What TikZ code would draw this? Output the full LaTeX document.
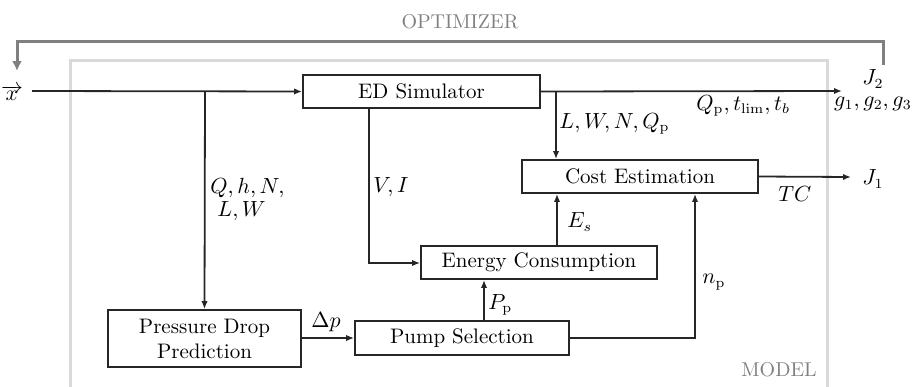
\documentclass[tikz,border=0pt]{standalone}
\usetikzlibrary{arrows.meta}
\begin{document}
\begin{tikzpicture}[x=0.5pt,y=-0.5pt,
  blk/.style={draw=black!85,line width=0.9pt,rectangle,inner sep=0pt,font=\fontsize{10.5}{12.5}\selectfont,align=center},
  con/.style={draw=black!85,line width=0.9pt,-{Latex[length=4pt,width=3.2pt]}},
  lnk/.style={draw=black!85,line width=0.9pt},
  lab/.style={inner sep=1pt,font=\fontsize{10.5}{12}\selectfont},
  opt/.style={draw=black!50,line width=1.5pt},
  gtext/.style={text=black!50,font=\fontsize{10}{12}\selectfont}]
\useasboundingbox (0,0) rectangle (919,386);
% model frame
\draw[draw=black!15,line width=1.5pt] (70,390) -- (70,60) -- (827,60) -- (827,390);
\node[gtext] (modellab) at (779,370) {MODEL};
\node[gtext] (optlab) at (460,22) {OPTIMIZER};
% blocks
\node[blk,minimum width=118.5pt,minimum height=16.5pt] (ed) at (421.5,91.5) {ED Simulator};
\node[blk,minimum width=118pt,minimum height=16.5pt] (cost) at (640,176.5) {Cost Estimation};
\node[blk,minimum width=118pt,minimum height=16.5pt] (energy) at (539,262.5) {Energy Consumption};
\node[blk,minimum width=96.5pt,minimum height=28.5pt] (press) at (204.5,338.5) {Pressure Drop\\Prediction};
\node[blk,minimum width=107pt,minimum height=17pt] (pump) at (462,338) {Pump Selection};
% input
\node[lab,inner sep=0pt] (xin) at (12,93) {$\overrightarrow{x}$};
\coordinate (xs) at (32,91);
\draw[con] (xs) -- (ed.west);
% outputs
\coordinate (oute) at (842,91);
\node[lab] (j2) at (873,79) {$J_2$};
\node[lab] (gs) at (873,104) {$g_1,g_2,g_3$};
\node[lab] (j1) at (873,179) {$J_1$};
\coordinate (out1) at (851,177);
\draw[con] (ed.east) -- (oute);
\draw[con] (cost.east) -- (out1);
% optimizer loop
\coordinate (o1) at (883,65);
\coordinate (o2) at (17,71);
\draw[opt,-{Latex[length=5pt,width=5pt]}] (o1) -- (883,41) -- (17,41) -- (o2);
% branch to pressure
\draw[con] (205,91) -- (press.north);
% ED to cost
\draw[con] (556,91) -- (cost.north -| 556,0);
% V,I
\draw[con] (ed.south -| 369,0) -- (369,263) -- (energy.west |- 0,263);
% Es
\draw[con] (energy.north -| 557,0) -- (cost.south -| 557,0);
% dp
\draw[con] (press.east |- 0,338) -- (pump.west);
% Pp
\draw[con] (pump.north -| 484,0) -- (energy.south -| 484,0);
% np
\draw[con] (pump.east) -- (695,338) -- (cost.south -| 695,0);
% labels
\node[lab,anchor=west] (lqp) at (694,106) {$Q_{\mathrm{p}}, t_{\mathrm{lim}}, t_b$};
\node[lab,anchor=west] (llw) at (557,124) {$L, W, N, Q_{\mathrm{p}}$};
\node[lab,anchor=west] (lq) at (208,188) {$Q, h, N,$};
\node[lab,anchor=west] (llw2) at (215,211) {$L, W$};
\node[lab,anchor=west] (lvi) at (371,187) {$V, I$};
\node[lab,anchor=west] (les) at (565,222) {$E_s$};
\node[lab,anchor=west] (ltc) at (776,194) {$TC$};
\node[lab,anchor=west] (lnp) at (700,282) {$n_{\mathrm{p}}$};
\node[lab,anchor=west] (lpp) at (486,305) {$P_{\mathrm{p}}$};
\node[lab] (ldp) at (326,322) {$\Delta p$};
\end{tikzpicture}
\end{document}
